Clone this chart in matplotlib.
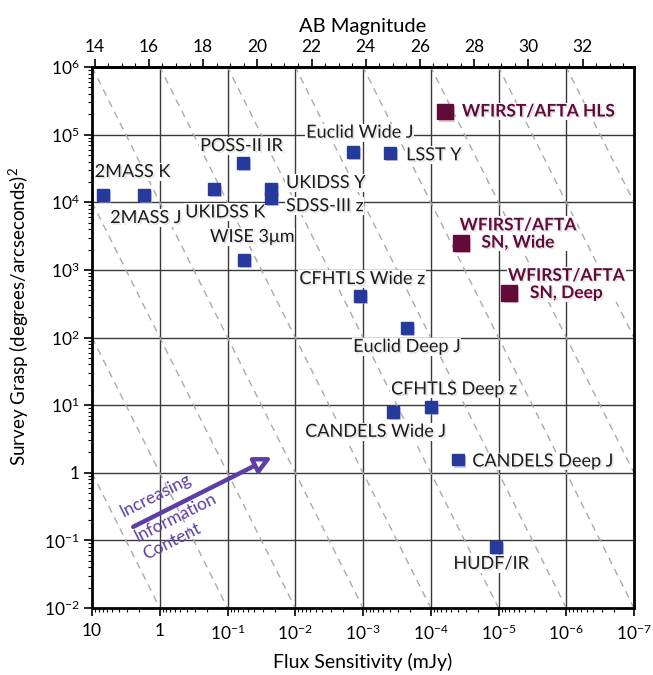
import numpy as np
import matplotlib
matplotlib.use("Agg")
import matplotlib.pyplot as plt
import matplotlib.patheffects as pe
from matplotlib.ticker import NullFormatter, LogLocator, MultipleLocator

plt.rcParams['font.family'] = ['Lato', 'DejaVu Sans']
plt.rcParams['mathtext.fontset'] = 'custom'
plt.rcParams['mathtext.rm'] = 'Lato'
plt.rcParams['mathtext.default'] = 'regular'

# ---- data ----
survey_names = ["2MASS K", "2MASS J", "UKIDSS K", "POSS-II IR", "UKIDSS Y", "SDSS-III z",
                "WISE 3μm", "Euclid Wide J", "LSST Y", "CFHTLS Wide z", "Euclid Deep J",
                "CFHTLS Deep z", "CANDELS Wide J", "CANDELS Deep J", "HUDF/IR"]
survey_flux = [6.95, 1.7, 0.158, 0.0585, 0.0228, 0.0228,
               0.057, 1.42e-3, 3.98e-4, 1.107e-3, 2.26e-4,
               1.0e-4, 3.57e-4, 3.92e-5, 1.09e-5]
survey_grasp = [1.28e4, 1.28e4, 1.55e4, 3.8e4, 1.57e4, 1.15e4,
                1.4e3, 5.6e4, 5.3e4, 410, 139,
                9.25, 7.96, 1.57, 0.08]

wfirst_names = ["WFIRST/AFTA HLS", "WFIRST/AFTA\nSN, Wide", "WFIRST/AFTA\nSN, Deep"]
wfirst_flux = [6.17e-5, 3.57e-5, 6.9e-6]
wfirst_grasp = [2.2e5, 2.5e3, 449]

x_ticks = [10, 1, 1e-1, 1e-2, 1e-3, 1e-4, 1e-5, 1e-6, 1e-7]
x_ticklabels = ["10", "1", "$10^{-1}$", "$10^{-2}$", "$10^{-3}$", "$10^{-4}$",
                "$10^{-5}$", "$10^{-6}$", "$10^{-7}$"]
y_ticks = [1e-2, 1e-1, 1, 10, 1e2, 1e3, 1e4, 1e5, 1e6]
y_ticklabels = ["$10^{-2}$", "$10^{-1}$", "1", "$10^{1}$", "$10^{2}$", "$10^{3}$",
                "$10^{4}$", "$10^{5}$", "$10^{6}$"]
ab_ticks = [14, 16, 18, 20, 22, 24, 26, 28, 30, 32]

arrow_lines = ["Increasing", "Information", "Content"]

# label layout (offset pixels from marker, alignment)
survey_offsets = [(-8, 23, 'left'), (-34, -23, 'left'), (11, -23, 'center'), (-2, 17, 'center'),
                  (15, 6, 'left'), (15, -8, 'left'), (8, 23, 'center'), (7, 19, 'center'),
                  (16, -2, 'left'), (2, 17, 'center'), (0, -19, 'center'), (23, 18, 'center'),
                  (-18, -20, 'center'), (14, -2, 'left'), (-5, -17, 'center')]
wfirst_offsets = [(17, 0, 'left'), (57, 9, 'center'), (57, 9, 'center')]
arrow_text_pos = [(0.1175, 0.2083), (0.1531, 0.1677), (0.1482, 0.1220)]

BLUE = '#263a9c'
MAROON = '#620b3b'
PURPLE = '#5b3ea6'

fig = plt.figure(figsize=(6.53, 6.75), dpi=100)
ax = fig.add_axes([0.1409, 0.0993, 0.8300, 0.8014])
ax.set_xscale('log')
ax.set_yscale('log')
ax.set_xlim(10, 1e-7)
ax.set_ylim(1e-2, 1e6)

# grid
for xv in x_ticks[1:-1]:
    ax.axvline(xv, color='#3a3a3a', lw=1.0, zorder=1)
for yv in y_ticks[1:-1]:
    ax.axhline(yv, color='#3a3a3a', lw=1.0, zorder=1)

# dashed constant-information lines: grasp ∝ flux^2
fgrid = np.logspace(1, -7, 400)
for a in range(-8, 6):
    ax.plot(fgrid, 1e6 * (fgrid / 10.0**a) ** 2, color='#aaaaaa', lw=1.0,
            dashes=(5, 4), zorder=1.5)

txt_shadow = [pe.withSimplePatchShadow(offset=(1.2, -1.2), shadow_rgbFace='#808080', alpha=0.22)]
bbox = dict(boxstyle='square,pad=0.05', fc='white', ec='none')
for n, fx, gy, (dx, dy, ha) in zip(survey_names, survey_flux, survey_grasp, survey_offsets):
    ax.annotate(n, (fx, gy), xytext=(dx, dy), textcoords='offset pixels', ha=ha, va='center',
                fontsize=13, color='#1c1c1c', zorder=5, bbox=bbox, path_effects=txt_shadow)
for n, fx, gy, (dx, dy, ha) in zip(wfirst_names, wfirst_flux, wfirst_grasp, wfirst_offsets):
    ax.annotate(n, (fx, gy), xytext=(dx, dy), textcoords='offset pixels', ha=ha, va='center',
                multialignment='center', fontsize=12.5, fontweight='bold', color=MAROON,
                zorder=5, bbox=bbox, linespacing=1.1, path_effects=txt_shadow)

shadow_mk = [pe.SimplePatchShadow(offset=(1.5, -1.5), shadow_rgbFace='#9aa6e8', alpha=0.6), pe.Normal()]
ax.plot(survey_flux, survey_grasp, 's', ms=8.6, color=BLUE, mec=BLUE, zorder=7,
        path_effects=shadow_mk)
ax.plot(wfirst_flux, wfirst_grasp, 's', ms=11.5, color=MAROON, mec=MAROON, zorder=7,
        path_effects=[pe.SimplePatchShadow(offset=(1.5, -1.5), shadow_rgbFace='#c89ab0', alpha=0.6), pe.Normal()])

# arrow
ax.annotate('', xy=(0.332, 0.279), xytext=(0.076, 0.150), xycoords='axes fraction',
            textcoords='axes fraction',
            arrowprops=dict(arrowstyle='-|>,head_length=1.0,head_width=0.5', ec=PURPLE,
                            fc='white', lw=3.2, shrinkA=0, shrinkB=0), zorder=6)
for t, (tx, ty) in zip(arrow_lines, arrow_text_pos):
    ax.text(tx, ty, t, transform=ax.transAxes, rotation=26.6, rotation_mode='anchor',
            ha='center', va='center', color=PURPLE, fontsize=12.5, zorder=6)

# ticks
ax.set_xticks(x_ticks)
ax.set_xticklabels(x_ticklabels)
ax.set_yticks(y_ticks)
ax.set_yticklabels(y_ticklabels)
ax.xaxis.set_minor_locator(LogLocator(base=10, subs=np.arange(2, 10)))
ax.yaxis.set_minor_locator(LogLocator(base=10, subs=np.arange(2, 10)))
ax.xaxis.set_minor_formatter(NullFormatter())
ax.yaxis.set_minor_formatter(NullFormatter())
ax.tick_params(which='major', length=6, width=1.2, labelsize=12.5, color='black')
ax.tick_params(which='minor', length=3, width=0.8, color='black')
ax.tick_params(axis='x', pad=5)
ax.tick_params(axis='y', pad=3)
for s in ax.spines.values():
    s.set_linewidth(2.0)

ax.set_xlabel("Flux Sensitivity (mJy)", fontsize=14)
ax.xaxis.set_label_coords(0.5, -0.083)
ax.set_ylabel("Survey Grasp (degrees/arcseconds)$^2$", fontsize=13.5)
ax.yaxis.set_label_coords(-0.112, 0.538)

def f2m(f):
    return 16.4 - 2.5 * np.log10(f)

def m2f(m):
    return 10.0 ** ((16.4 - m) / 2.5)

sec = ax.secondary_xaxis('top', functions=(f2m, m2f))
sec.set_xticks(ab_ticks)
sec.set_xticklabels([str(t) for t in ab_ticks])
sec.xaxis.set_minor_locator(MultipleLocator(0.5))
sec.xaxis.set_minor_formatter(NullFormatter())
sec.tick_params(which='major', length=6, width=1.2, labelsize=12.5, pad=3)
sec.tick_params(which='minor', length=3, width=0.8)
sec.spines['top'].set_linewidth(2.0)
sec.set_xlabel("AB Magnitude", fontsize=14.5, labelpad=5)

fig.savefig("out.png", dpi=100)
